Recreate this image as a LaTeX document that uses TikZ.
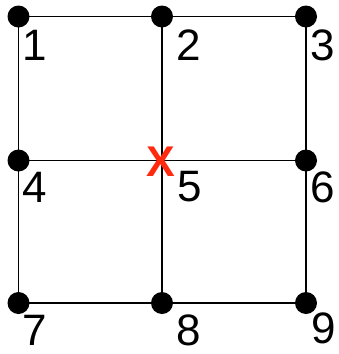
\documentclass[tikz,border=0pt]{standalone}
\usepackage{fontspec}
\setmainfont{Liberation Sans}
\usetikzlibrary{positioning}
\definecolor{crossred}{HTML}{FF2A10}

\begin{document}
\begin{tikzpicture}[x=1pt,y=-1pt,
 site/.style={circle,fill=black,minimum size=22pt,inner sep=0pt},
 edge/.style={draw=black,line width=1.4pt},
 digit/.style={font=\fontsize{44}{44}\selectfont,inner sep=0pt,anchor=north west},
 cross/.style={font=\fontsize{43}{43}\selectfont\bfseries,text=crossred,inner sep=0pt}]
\useasboundingbox (0,0) rectangle (338,354);

% Grid points, numbered row by row.
\foreach \n/\x/\y in {1/18.5/16.5,2/162/16.5,3/306/16.5,4/18.5/160.5,5/162/160.5,6/306/160.5,7/18.5/303,8/162/303,9/306/303} \coordinate (g\n) at (\x,\y);

% Grid lines.
\draw[edge] (g1) -- (g2) -- (g3); \draw[edge] (g4) -- (g5) -- (g6); \draw[edge] (g7) -- (g8) -- (g9);
\draw[edge] (g1) -- (g4) -- (g7); \draw[edge] (g2) -- (g5) -- (g8); \draw[edge] (g3) -- (g6) -- (g9);

% Dots; the centre point carries the red cross instead.
\foreach \n in {1,2,3,4,6,7,8,9} \node[site] (d\n) at (g\n) {};
\node[cross] (x5) at (161,161.5) {X};

% Labels.
\foreach \n/\x/\y in {1/22/30,2/176/30,3/310/30,4/22/172,5/177/171,6/310/172,7/22/315,8/176/315,9/311/313} \node[digit] (l\n) at (\x,\y) {\n};
\end{tikzpicture}
\end{document}
